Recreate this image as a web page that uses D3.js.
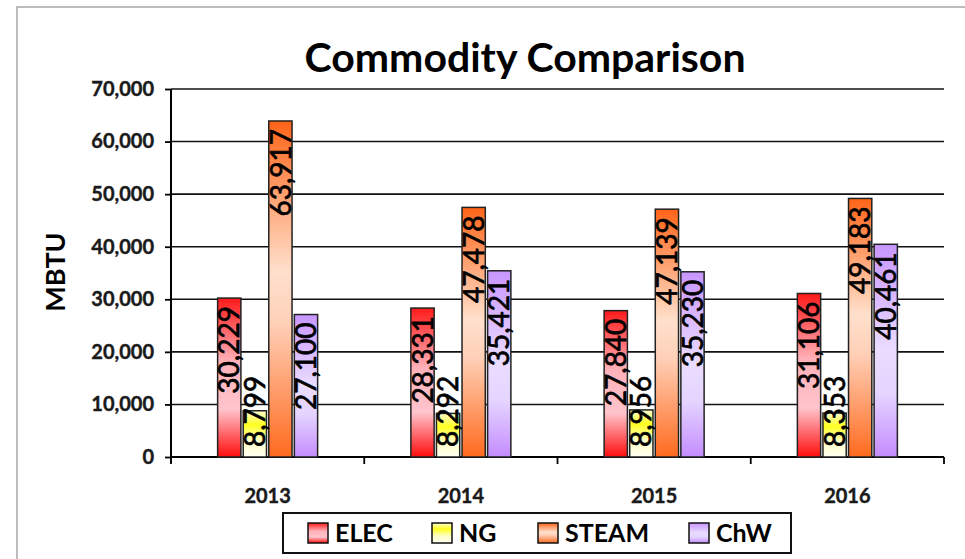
<!DOCTYPE html>
<html><head><meta charset="utf-8">
<script src="https://cdn.jsdelivr.net/npm/d3@7"></script>
<style>body{margin:0;background:#fff}svg{display:block}</style>
</head><body>
<svg id="c" width="965" height="559"></svg>
<script>
const years = ["2013","2014","2015","2016"];
const seriesNames = ["ELEC","NG","STEAM","ChW"];
const elec = [30229, 28331, 27840, 31106];
const ng = [8799, 8292, 8956, 8353];
const steam = [63917, 47478, 47139, 49183];
const chw = [27100, 35421, 35230, 40461];
const yTicks = [0,10000,20000,30000,40000,50000,60000,70000];
const seriesValues = [elec, ng, steam, chw];

const gradStops = {
  ELEC: [[0,"#ff1a1a"],[0.4,"#ffb0b8"],[0.7,"#ffc4cc"],[1,"#ff0d0d"]],
  NG: [[0,"#ffffd0"],[0.3,"#ffff20"],[0.65,"#ffffc8"],[1,"#fffff0"]],
  STEAM: [[0,"#ff6418"],[0.45,"#ffe0cc"],[0.6,"#ffd0b8"],[1,"#ff6a1e"]],
  ChW: [[0,"#c896ff"],[0.5,"#eadcff"],[0.7,"#e4d4ff"],[1,"#c48cff"]]
};

const svg = d3.select("#c");
const defs = svg.append("defs");
seriesNames.forEach(s => {
  const g = defs.append("linearGradient").attr("id","g"+s)
    .attr("x1",0).attr("y1",0).attr("x2",0).attr("y2",1);
  gradStops[s].forEach(([o,c]) => g.append("stop").attr("offset",o).attr("stop-color",c));
});

// outer border
svg.append("path").attr("d","M17,559 L17,7 L965,7").attr("fill","none")
  .attr("stroke","#a6a6a6").attr("stroke-width",1.5);

const x = d3.scaleBand().domain(years).range([171,944]).paddingInner(0).paddingOuter(0);
const xi = d3.scaleBand().domain(seriesNames).range([-50,50]).paddingInner(0.09);
const y = d3.scaleLinear().domain([0,70000]).range([457,89]);

// gridlines
svg.append("g").selectAll("line").data(yTicks.slice(1)).join("line")
  .attr("x1",171).attr("x2",944).attr("y1",d=>y(d)).attr("y2",d=>y(d))
  .attr("stroke","#111").attr("stroke-width",1.6);

// y axis
const yAxis = svg.append("g").attr("transform","translate(171,0)")
  .call(d3.axisLeft(y).tickValues(yTicks).tickFormat(d3.format(",")).tickSize(6).tickPadding(11));
yAxis.select(".domain").attr("stroke","#000").attr("stroke-width",2).attr("d","M0,89V463");
yAxis.selectAll(".tick line").attr("stroke","#000").attr("stroke-width",1.8);
yAxis.selectAll("text").attr("font-family","Lato").attr("font-weight","bold").attr("font-size",20)
  .attr("fill","#1a1a1a").attr("stroke","#1a1a1a").attr("stroke-width",0.4);

// x axis
const xAxis = svg.append("g").attr("transform","translate(0,457)")
  .call(d3.axisBottom(x).tickSize(0).tickPadding(32));
xAxis.select(".domain").attr("stroke","#000").attr("stroke-width",2.2).attr("d","M171,0H944");
xAxis.selectAll("text").attr("font-family","Lato").attr("font-weight","bold").attr("font-size",20)
  .attr("fill","#1a1a1a").attr("stroke","#1a1a1a").attr("stroke-width",0.4);
svg.append("g").selectAll("line").data(years.concat(["end"])).join("line")
  .attr("x1",(d,i)=>i<years.length? x(d): 944).attr("x2",(d,i)=>i<years.length? x(d): 944)
  .attr("y1",457).attr("y2",464).attr("stroke","#000").attr("stroke-width",1.8);

// bars
seriesNames.forEach((s,si) => {
  const vals = seriesValues[si];
  const g = svg.append("g");
  g.selectAll("rect").data(years).join("rect")
    .attr("x", d => x(d) + x.bandwidth()/2 + xi(s))
    .attr("width", xi.bandwidth())
    .attr("y", (d,i) => y(vals[i]))
    .attr("height", (d,i) => y(0) - y(vals[i]))
    .attr("fill", "url(#g"+s+")")
    .attr("stroke","#222").attr("stroke-width",1.5);
});

// labels
seriesNames.forEach((s,si) => {
  const vals = seriesValues[si];
  years.forEach((yr,i) => {
    const cx = x(yr) + x.bandwidth()/2 + xi(s) + xi.bandwidth()/2;
    const t = svg.append("text")
      .attr("font-family","Lato").attr("font-size",28).attr("fill","#000")
      .attr("stroke","#000").attr("stroke-width",0.7)
      .attr("dy","0.36em")
      .text(d3.format(",")(vals[i]));
    const len = t.node().getComputedTextLength();
    let topY = y(vals[i]) + 8;
    if (topY + len > y(0) - 10) topY = y(0) - 10 - len;
    t.attr("text-anchor","end").attr("transform",`translate(${cx},${topY}) rotate(-90)`);
  });
});

// title
svg.append("text").attr("x",525).attr("y",72).attr("text-anchor","middle")
  .attr("font-family","Lato").attr("font-weight","bold").attr("font-size",41).attr("fill","#000")
  .text("Commodity Comparison");

// y title
svg.append("text").attr("transform","translate(65,272) rotate(-90)").attr("text-anchor","middle")
  .attr("font-family","Lato").attr("font-weight","bold").attr("font-size",27).attr("fill","#000")
  .text("MBTU");

// legend
const lg = svg.append("g");
lg.append("rect").attr("x",283).attr("y",513).attr("width",508).attr("height",40)
  .attr("fill","#fff").attr("stroke","#111").attr("stroke-width",2);
const legX = [308,432,538,689];
seriesNames.forEach((s,i) => {
  lg.append("rect").attr("x",legX[i]).attr("y",523).attr("width",20).attr("height",20)
    .attr("fill","url(#g"+s+")").attr("stroke","#111").attr("stroke-width",1.5);
  lg.append("text").attr("x",legX[i]+27).attr("y",542)
    .attr("font-family","Lato").attr("font-weight","bold").attr("font-size",25).attr("fill","#000")
    .text(s);
});
</script>
</body></html>
